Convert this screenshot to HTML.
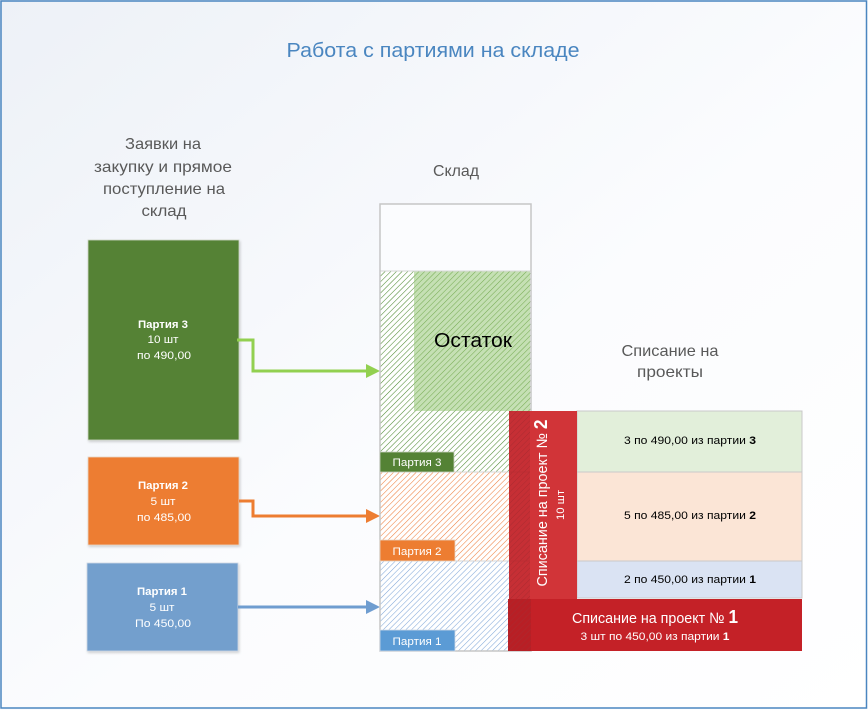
<!DOCTYPE html>
<html><head><meta charset="utf-8">
<style>
html,body{margin:0;padding:0;}
body{width:868px;height:710px;overflow:hidden;background:#fff;}
svg{display:block;}
text{font-family:"Liberation Sans","DejaVu Sans",sans-serif;}
</style></head>
<body>
<svg width="868" height="710" viewBox="0 0 868 710" xmlns="http://www.w3.org/2000/svg">
<defs>
  <linearGradient id="bg" x1="0" y1="0" x2="1" y2="1">
    <stop offset="0" stop-color="#edf1f7"/>
    <stop offset="0.55" stop-color="#fbfcfe"/>
    <stop offset="1" stop-color="#ffffff"/>
  </linearGradient>
  <pattern id="hG" width="4" height="4" patternUnits="userSpaceOnUse" patternTransform="rotate(45)">
    <line x1="0" y1="0" x2="0" y2="4" stroke="#4f8a33" stroke-width="1.1"/>
  </pattern>
  <pattern id="hG2" width="4" height="4" patternUnits="userSpaceOnUse" patternTransform="rotate(45)">
    <line x1="0" y1="0" x2="0" y2="4" stroke="#78ad55" stroke-width="1.1"/>
  </pattern>
  <pattern id="hO" width="4" height="4" patternUnits="userSpaceOnUse" patternTransform="rotate(45)">
    <line x1="0" y1="0" x2="0" y2="4" stroke="#ee8040" stroke-width="1.1"/>
  </pattern>
  <pattern id="hB" width="4" height="4" patternUnits="userSpaceOnUse" patternTransform="rotate(45)">
    <line x1="0" y1="0" x2="0" y2="4" stroke="#82a8d8" stroke-width="1.1"/>
  </pattern>
  <pattern id="hR" width="4" height="4" patternUnits="userSpaceOnUse" patternTransform="rotate(45)">
    <line x1="0" y1="0" x2="0" y2="4" stroke="#a82a2f" stroke-width="0.9"/>
  </pattern>
  <filter id="sh" x="-5%" y="-5%" width="115%" height="115%">
    <feDropShadow dx="1" dy="1.5" stdDeviation="1.2" flood-color="#000" flood-opacity="0.18"/>
  </filter>
</defs>

<!-- background and frame -->
<rect x="0" y="0" width="868" height="710" fill="url(#bg)"/>
<rect x="1" y="1" width="865.5" height="707" fill="none" stroke="#4a86c0" stroke-width="1.5"/>

<!-- title -->
<text x="433" y="57" font-size="20" fill="#4a86c0" text-anchor="middle" textLength="293" lengthAdjust="spacingAndGlyphs">Работа с партиями на складе</text>

<!-- left header -->
<g fill="#595959" font-size="16" text-anchor="middle">
  <text x="163" y="149" textLength="76" lengthAdjust="spacingAndGlyphs">Заявки на</text>
  <text x="163" y="172" textLength="138" lengthAdjust="spacingAndGlyphs">закупку и прямое</text>
  <text x="164" y="194" textLength="122" lengthAdjust="spacingAndGlyphs">поступление на</text>
  <text x="164" y="216" textLength="45" lengthAdjust="spacingAndGlyphs">склад</text>
  <text x="456" y="176" textLength="46" lengthAdjust="spacingAndGlyphs">Склад</text>
  <text x="670" y="356" textLength="97" lengthAdjust="spacingAndGlyphs">Списание на</text>
  <text x="670" y="377" textLength="66" lengthAdjust="spacingAndGlyphs">проекты</text>
</g>

<!-- left boxes -->
<g filter="url(#sh)">
  <rect x="88" y="240" width="151" height="200" fill="#548235" stroke="#d0d8c8" stroke-width="0.8"/>
  <rect x="88" y="457" width="151" height="88" fill="#ed7d31" stroke="#e8d8c8" stroke-width="0.8"/>
  <rect x="87" y="563" width="151" height="88" fill="#739fcd" stroke="#d0dae6" stroke-width="0.8"/>
</g>
<g fill="#ffffff" font-size="11" text-anchor="middle">
  <text x="163" y="328" font-weight="bold" textLength="50" lengthAdjust="spacingAndGlyphs">Партия 3</text>
  <text x="163" y="343" textLength="31" lengthAdjust="spacingAndGlyphs">10 шт</text>
  <text x="164" y="359" textLength="54" lengthAdjust="spacingAndGlyphs">по 490,00</text>
  <text x="163" y="489" font-weight="bold" textLength="50" lengthAdjust="spacingAndGlyphs">Партия 2</text>
  <text x="163" y="505" textLength="25" lengthAdjust="spacingAndGlyphs">5 шт</text>
  <text x="164" y="521" textLength="54" lengthAdjust="spacingAndGlyphs">по 485,00</text>
  <text x="162" y="595" font-weight="bold" textLength="50" lengthAdjust="spacingAndGlyphs">Партия 1</text>
  <text x="162" y="611" textLength="25" lengthAdjust="spacingAndGlyphs">5 шт</text>
  <text x="163" y="627" textLength="56" lengthAdjust="spacingAndGlyphs">По 450,00</text>
</g>

<!-- arrows -->
<polyline points="237,340 253,340 253,371 367,371" fill="none" stroke="#92d050" stroke-width="3"/>
<polygon points="366,364 380,371 366,378" fill="#92d050"/>
<polyline points="239,501 253,501 253,516 367,516" fill="none" stroke="#ed7d31" stroke-width="3"/>
<polygon points="366,509 380,516 366,523" fill="#ed7d31"/>
<line x1="238" y1="607" x2="367" y2="607" stroke="#6f9dd0" stroke-width="3"/>
<polygon points="366,600 380,607 366,614" fill="#6f9dd0"/>

<!-- warehouse -->
<rect x="380" y="204" width="151" height="447" fill="#ffffff"/>
<rect x="380" y="204" width="151" height="67" fill="#fbfcfe"/>
<rect x="380" y="271" width="151" height="201" fill="url(#hG)"/>
<rect x="380" y="472" width="151" height="89" fill="url(#hO)"/>
<rect x="380" y="561" width="151" height="90" fill="url(#hB)"/>
<!-- Остаток -->
<rect x="414" y="271" width="116" height="140" fill="#c5e0b4"/>
<rect x="414" y="271" width="116" height="140" fill="url(#hG2)"/>
<text x="473" y="347" font-size="20" fill="#000" text-anchor="middle" textLength="78" lengthAdjust="spacingAndGlyphs">Остаток</text>
<line x1="380" y1="271" x2="531" y2="271" stroke="#d6d6d6" stroke-width="1"/>
<line x1="380" y1="472" x2="509" y2="472" stroke="#d6d6d6" stroke-width="1"/>
<line x1="380" y1="561" x2="509" y2="561" stroke="#d6d6d6" stroke-width="1"/>
<rect x="380" y="204" width="151" height="447" fill="none" stroke="#c6c6c6" stroke-width="1.5"/>

<!-- tags -->
<rect x="380" y="452" width="74" height="20" fill="#548235" stroke="#c8d0c0" stroke-width="0.8"/>
<rect x="380" y="540" width="75" height="21" fill="#ed7d31" stroke="#e6d6c6" stroke-width="0.8"/>
<rect x="380" y="630" width="75" height="21" fill="#5b9bd5" stroke="#d0dae6" stroke-width="0.8"/>
<g fill="#ffffff" font-size="11" text-anchor="middle">
  <text x="417" y="466" textLength="49" lengthAdjust="spacingAndGlyphs">Партия 3</text>
  <text x="417" y="555" textLength="49" lengthAdjust="spacingAndGlyphs">Партия 2</text>
  <text x="417" y="645" textLength="49" lengthAdjust="spacingAndGlyphs">Партия 1</text>
</g>

<!-- right table -->
<rect x="577" y="411" width="225" height="61" fill="#e2efda" stroke="#c9c9c9" stroke-width="1"/>
<rect x="577" y="472" width="225" height="89" fill="#fbe5d6" stroke="#c9c9c9" stroke-width="1"/>
<rect x="577" y="561" width="225" height="37" fill="#dae3f3" stroke="#c9c9c9" stroke-width="1"/>
<g fill="#000" font-size="11" text-anchor="middle">
  <text x="690" y="444" textLength="132" lengthAdjust="spacingAndGlyphs">3 по 490,00 из партии <tspan font-weight="bold">3</tspan></text>
  <text x="690" y="519" textLength="132" lengthAdjust="spacingAndGlyphs">5 по 485,00 из партии <tspan font-weight="bold">2</tspan></text>
  <text x="690" y="583" textLength="132" lengthAdjust="spacingAndGlyphs">2 по 450,00 из партии <tspan font-weight="bold">1</tspan></text>
</g>

<!-- red column project 2 -->
<rect x="509" y="411" width="68" height="188" fill="#d13438"/>
<rect x="509" y="411" width="21" height="188" fill="#c62f35"/>
<rect x="509" y="411" width="21" height="188" fill="url(#hR)"/>
<line x1="509" y1="472" x2="530" y2="472" stroke="#b82c32" stroke-width="0.8"/>
<line x1="509" y1="561" x2="530" y2="561" stroke="#b82c32" stroke-width="0.8"/>
<text transform="translate(547,503) rotate(-90)" x="0" y="0" font-size="15" fill="#ffffff" text-anchor="middle" textLength="167" lengthAdjust="spacingAndGlyphs">Списание на проект № <tspan font-weight="bold" font-size="18">2</tspan></text>
<text transform="translate(564,505) rotate(-90)" x="0" y="0" font-size="11" fill="#ffffff" text-anchor="middle" textLength="30" lengthAdjust="spacingAndGlyphs">10 шт</text>

<!-- red bar project 1 -->
<rect x="508" y="599" width="294" height="52" fill="#c42127"/>
<rect x="508" y="599" width="23" height="52" fill="#b81f25"/>
<rect x="508" y="599" width="23" height="52" fill="url(#hR)"/>
<text x="655" y="623" font-size="15" fill="#ffffff" text-anchor="middle" textLength="166" lengthAdjust="spacingAndGlyphs">Списание на проект № <tspan font-weight="bold" font-size="18">1</tspan></text>
<text x="655" y="640" font-size="11" fill="#ffffff" text-anchor="middle" textLength="149" lengthAdjust="spacingAndGlyphs">3 шт по 450,00 из партии <tspan font-weight="bold">1</tspan></text>
</svg>
</body></html>
